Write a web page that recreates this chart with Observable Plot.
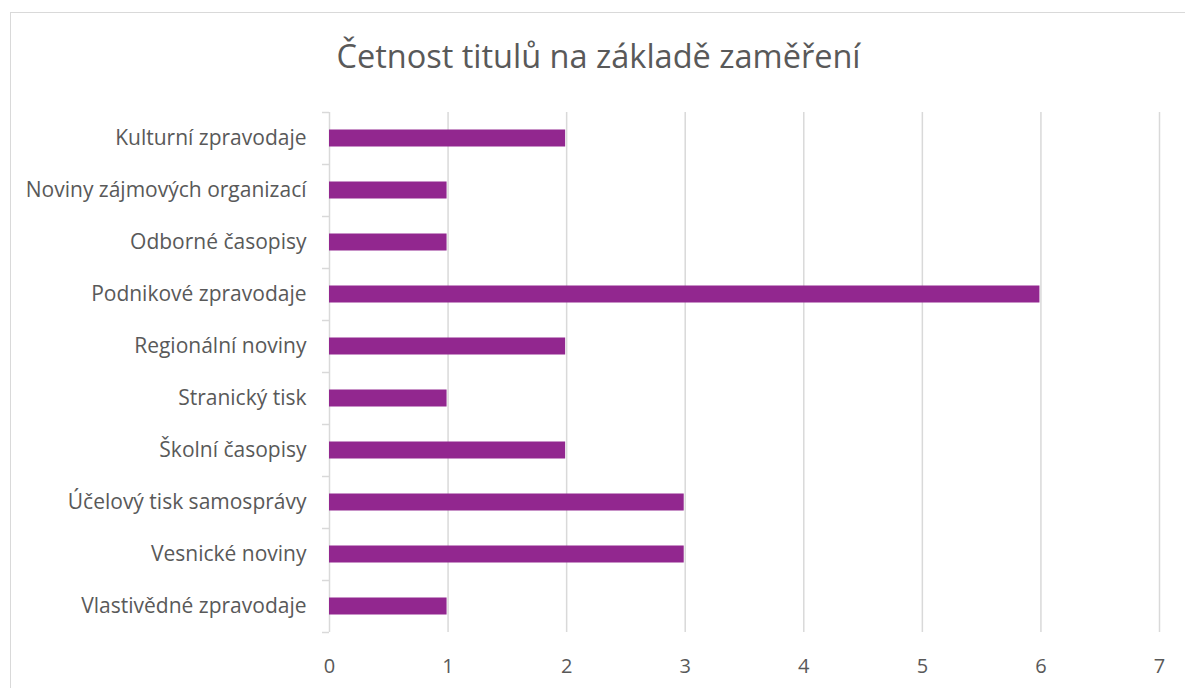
<!DOCTYPE html>
<html><head><meta charset="utf-8">
<script src="https://cdn.jsdelivr.net/npm/d3@7"></script>
<script src="https://cdn.jsdelivr.net/npm/@observablehq/plot@0.6"></script>
<style>
body{margin:0;background:#fff;font-family:"Open Sans",sans-serif;}
#frame{position:absolute;left:10px;top:12px;width:1200px;height:700px;border:1px solid #d9d9d9;box-sizing:border-box;}
#wrap{position:absolute;left:0;top:0;width:1185px;}
#title{height:100px;box-sizing:border-box;padding-top:34px;text-align:center;font-size:32.5px;font-weight:400;color:#595959;padding-left:12px;line-height:44px;}
</style></head><body>
<div id="frame"></div>
<div id="wrap"><div id="title">Četnost titulů na základě zaměření</div><div id="chart"></div></div>
<script>
const categories = ["Kulturní zpravodaje","Noviny zájmových organizací","Odborné časopisy","Podnikové zpravodaje","Regionální noviny","Stranický tisk","Školní časopisy","Účelový tisk samosprávy","Vesnické noviny","Vlastivědné zpravodaje"];
const counts = [2,1,1,6,2,1,2,3,3,1];
const xTicks = [0,1,2,3,4,5,6,7];
const data = categories.map((c,i)=>({cat:c, n:counts[i]}));

const H = 588, mTop = 12, mBottom = 56;
const band = (H - mTop - mBottom) / categories.length;
const grey = "#d9d9d9", txt = "#595959";

const chart = Plot.plot({
  width: 1185, height: H,
  marginLeft: 329, marginRight: 26, marginTop: mTop, marginBottom: mBottom,
  style: {fontFamily: "'Open Sans', sans-serif", color: txt, background: "transparent"},
  x: {domain: [0,7], ticks: xTicks},
  y: {domain: categories, padding: 0},
  marks: [
    Plot.ruleX(xTicks.slice(1), {stroke: grey, strokeWidth: 1.5}),
    Plot.ruleX([0], {stroke: grey, strokeWidth: 1.5}),
    Plot.ruleY(categories, {y: d=>d, x1: 0, x2: 0, insetLeft: -7, dy: -band/2, stroke: grey, strokeWidth: 1.5}),
    Plot.ruleY(categories.slice(-1), {y: d=>d, x1: 0, x2: 0, insetLeft: -7, dy: band/2, stroke: grey, strokeWidth: 1.5}),
    Plot.barX(data, {y: "cat", x: "n", fill: "#92278F", insetTop: 17.5, insetBottom: 17.5, insetRight: 1}),
    Plot.axisY({tickSize: 0, tickPadding: 23, fontSize: 21, label: null, fill: txt}),
    Plot.axisX({ticks: xTicks, tickFormat: d3.format("d"), tickSize: 0, tickPadding: 26, fontSize: 20, label: null, fill: txt})
  ]
});
document.getElementById("chart").appendChild(chart);
</script></body></html>
